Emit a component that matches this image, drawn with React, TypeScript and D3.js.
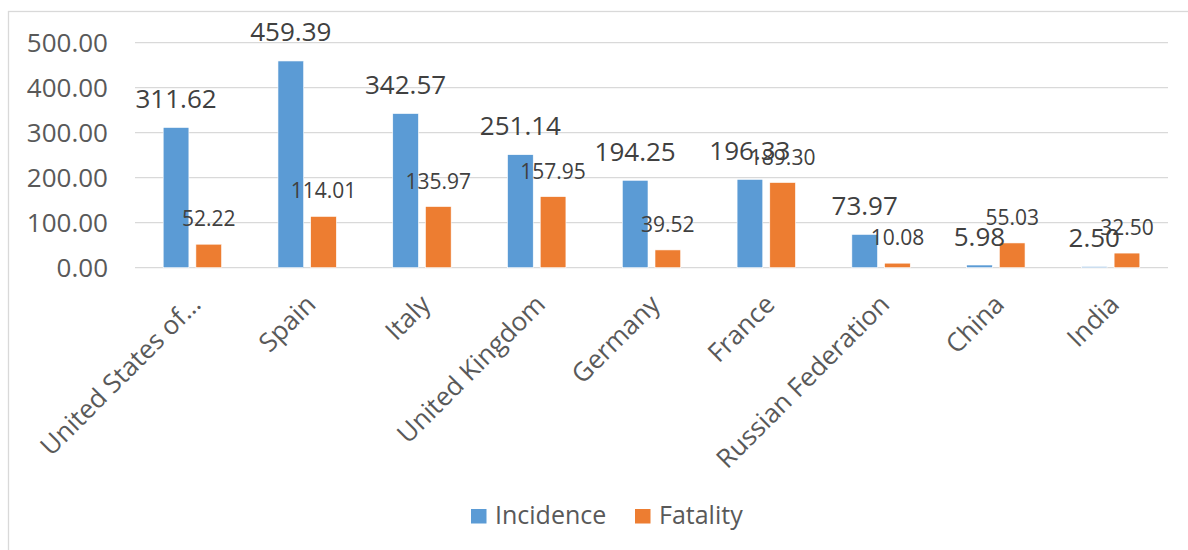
import React from "react";
import * as d3 from "d3";

const countries = [
  "United States of…",
  "Spain",
  "Italy",
  "United Kingdom",
  "Germany",
  "France",
  "Russian Federation",
  "China",
  "India",
];
const incidence = [311.62, 459.39, 342.57, 251.14, 194.25, 196.33, 73.97, 5.98, 2.5];
const fatality = [52.22, 114.01, 135.97, 157.95, 39.52, 189.3, 10.08, 55.03, 32.5];
const seriesNames = ["Incidence", "Fatality"];
const seriesColors = ["#5B9BD5", "#ED7D31"];
const yTicks = [0, 100, 200, 300, 400, 500];

const W = 1188;
const H = 550;
const plot = { left: 135, right: 1168, top: 42.7, bottom: 267.7 };
const FONT = "'Open Sans', 'Noto Sans', sans-serif";

export default function App() {
  const x = d3
    .scaleBand<string>()
    .domain(countries)
    .range([plot.left, plot.right])
    .padding(0);
  const y = d3.scaleLinear().domain([0, 500]).range([plot.bottom, plot.top]);
  const half = 29.2;
  const inner = d3
    .scaleBand<string>()
    .domain(seriesNames)
    .range([-half, half])
    .paddingInner(0.214)
    .paddingOuter(0);
  const fmt = d3.format(".2f");
  const values = [incidence, fatality];
  const labelSize = [26, 21];
  const labelGap = [19.5, 18];

  return (
    <svg
      width={W}
      height={H}
      style={{ position: "absolute", left: 0, top: 0, background: "#fff" }}
      fontFamily={FONT}
    >
      <rect x={0} y={0} width={W} height={H} fill="#fff" />
      {/* chart frame */}
      <rect
        x={8.5}
        y={11.5}
        width={W + 40}
        height={H + 40}
        fill="none"
        stroke="#D9D9D9"
        strokeWidth={1.3}
      />
      {/* gridlines and value axis */}
      {yTicks.map((t) => (
        <g key={t}>
          <line
            x1={plot.left}
            x2={plot.right}
            y1={y(t)}
            y2={y(t)}
            stroke="#D9D9D9"
            strokeWidth={1.3}
          />
          <text
            x={108}
            y={y(t) + 9}
            textAnchor="end"
            fontSize={26}
            fill="#595959"
          >
            {fmt(t)}
          </text>
        </g>
      ))}
      {/* bars */}
      {seriesNames.map((s, si) =>
        countries.map((c, i) => {
          const cx = (x(c) as number) + x.bandwidth() / 2;
          const bx = cx + (inner(s) as number);
          const v = values[si][i];
          return (
            <rect
              key={s + c}
              x={bx}
              y={y(v)}
              width={inner.bandwidth()}
              height={y(0) - y(v)}
              fill={seriesColors[si]}
              stroke="#fff"
              strokeWidth={0.6}
            />
          );
        })
      )}
      {/* data labels */}
      {seriesNames.map((s, si) =>
        countries.map((c, i) => {
          const cx = (x(c) as number) + x.bandwidth() / 2;
          const bx = cx + (inner(s) as number) + inner.bandwidth() / 2;
          const v = values[si][i];
          return (
            <text
              key={"l" + s + c}
              x={bx}
              y={y(v) - labelGap[si]}
              textAnchor="middle"
              fontSize={labelSize[si]}
              fill="#404040"
            >
              {fmt(v)}
            </text>
          );
        })
      )}
      {/* category labels */}
      {countries.map((c) => {
        const cx = (x(c) as number) + x.bandwidth() / 2;
        const ax = cx + 10;
        const ay = 306;
        return (
          <text
            key={"c" + c}
            x={ax}
            y={ay}
            textAnchor="end"
            fontSize={26}
            fill="#595959"
            transform={`rotate(-45 ${ax} ${ay})`}
          >
            {c}
          </text>
        );
      })}
      {/* legend */}
      {seriesNames.map((s, si) => {
        const lx = [471, 635][si];
        return (
          <g key={"lg" + s}>
            <rect x={lx} y={509} width={15.5} height={14.5} fill={seriesColors[si]} />
            <text x={lx + 24} y={523.5} fontSize={25} fill="#595959">
              {s}
            </text>
          </g>
        );
      })}
    </svg>
  );
}
